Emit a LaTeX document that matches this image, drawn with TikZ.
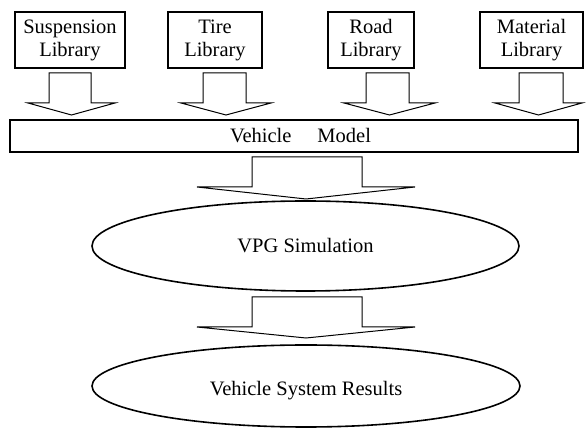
\documentclass[tikz,border=0pt]{standalone}
\usepackage{fontspec}
\setmainfont{Liberation Serif}
\usetikzlibrary{shapes.geometric}
\newcommand{\dfont}{\fontsize{20.5}{23}\selectfont}
\newcommand{\blkarr}[7]{%
  \draw[blkarrow] (#1,#5) -- (#2,#5) -- (#2,#6) -- (#4,#6) -- ({(#3+#4)/2},#7) -- (#3,#6) -- (#1,#6) -- cycle;}
\tikzset{
  libbox/.style={draw, line width=1.4pt, align=center, inner sep=0pt, minimum height=56pt, font=\dfont},
  vmbox/.style={draw, line width=2pt, inner sep=0pt, minimum width=568pt, minimum height=32pt},
  oval/.style={draw, ellipse, line width=1.6pt, inner sep=0pt, font=\dfont},
  blkarrow/.style={draw, line width=1pt, fill=white, line join=miter},
  lbl/.style={font=\dfont, inner sep=0pt}
}
\begin{document}
\begin{tikzpicture}[x=1pt,y=1pt]
\useasboundingbox (0,0) rectangle (586,428);
% library boxes
\node[libbox, minimum width=110pt] (susp) at (70,388) {Suspension\\Library};
\node[libbox, minimum width=94pt] (tire) at (215,388) {Tire\\Library};
\node[libbox, minimum width=86pt] (road) at (371,388) {Road\\Library};
\node[libbox, minimum width=103pt] (mat) at (531.5,388) {Material\\Library};
% vehicle model
\node[vmbox] (vm) at (294,292) {};
\node[lbl] (vmt) at (300.5,292) {Vehicle\hspace{26pt}Model};
% ellipses
\node[oval, minimum width=427pt, minimum height=90pt] (vpg) at (305.5,182) {VPG Simulation};
\node[oval, minimum width=428pt, minimum height=82pt] (res) at (306,42) {};
\node[lbl] (rest) at (306,37) {Vehicle System Results};
% block arrows
\blkarr{49}{91}{28}{115}{355}{325}{313}
\blkarr{203}{246}{181}{271}{355}{325}{313}
\blkarr{366}{409}{344}{435}{355}{325}{313}
\blkarr{519}{563}{495}{582}{355}{325}{313}
\blkarr{252}{362}{197}{415}{271}{241}{229}
\blkarr{252}{362}{197}{415}{131}{101}{90}
\end{tikzpicture}
\end{document}
